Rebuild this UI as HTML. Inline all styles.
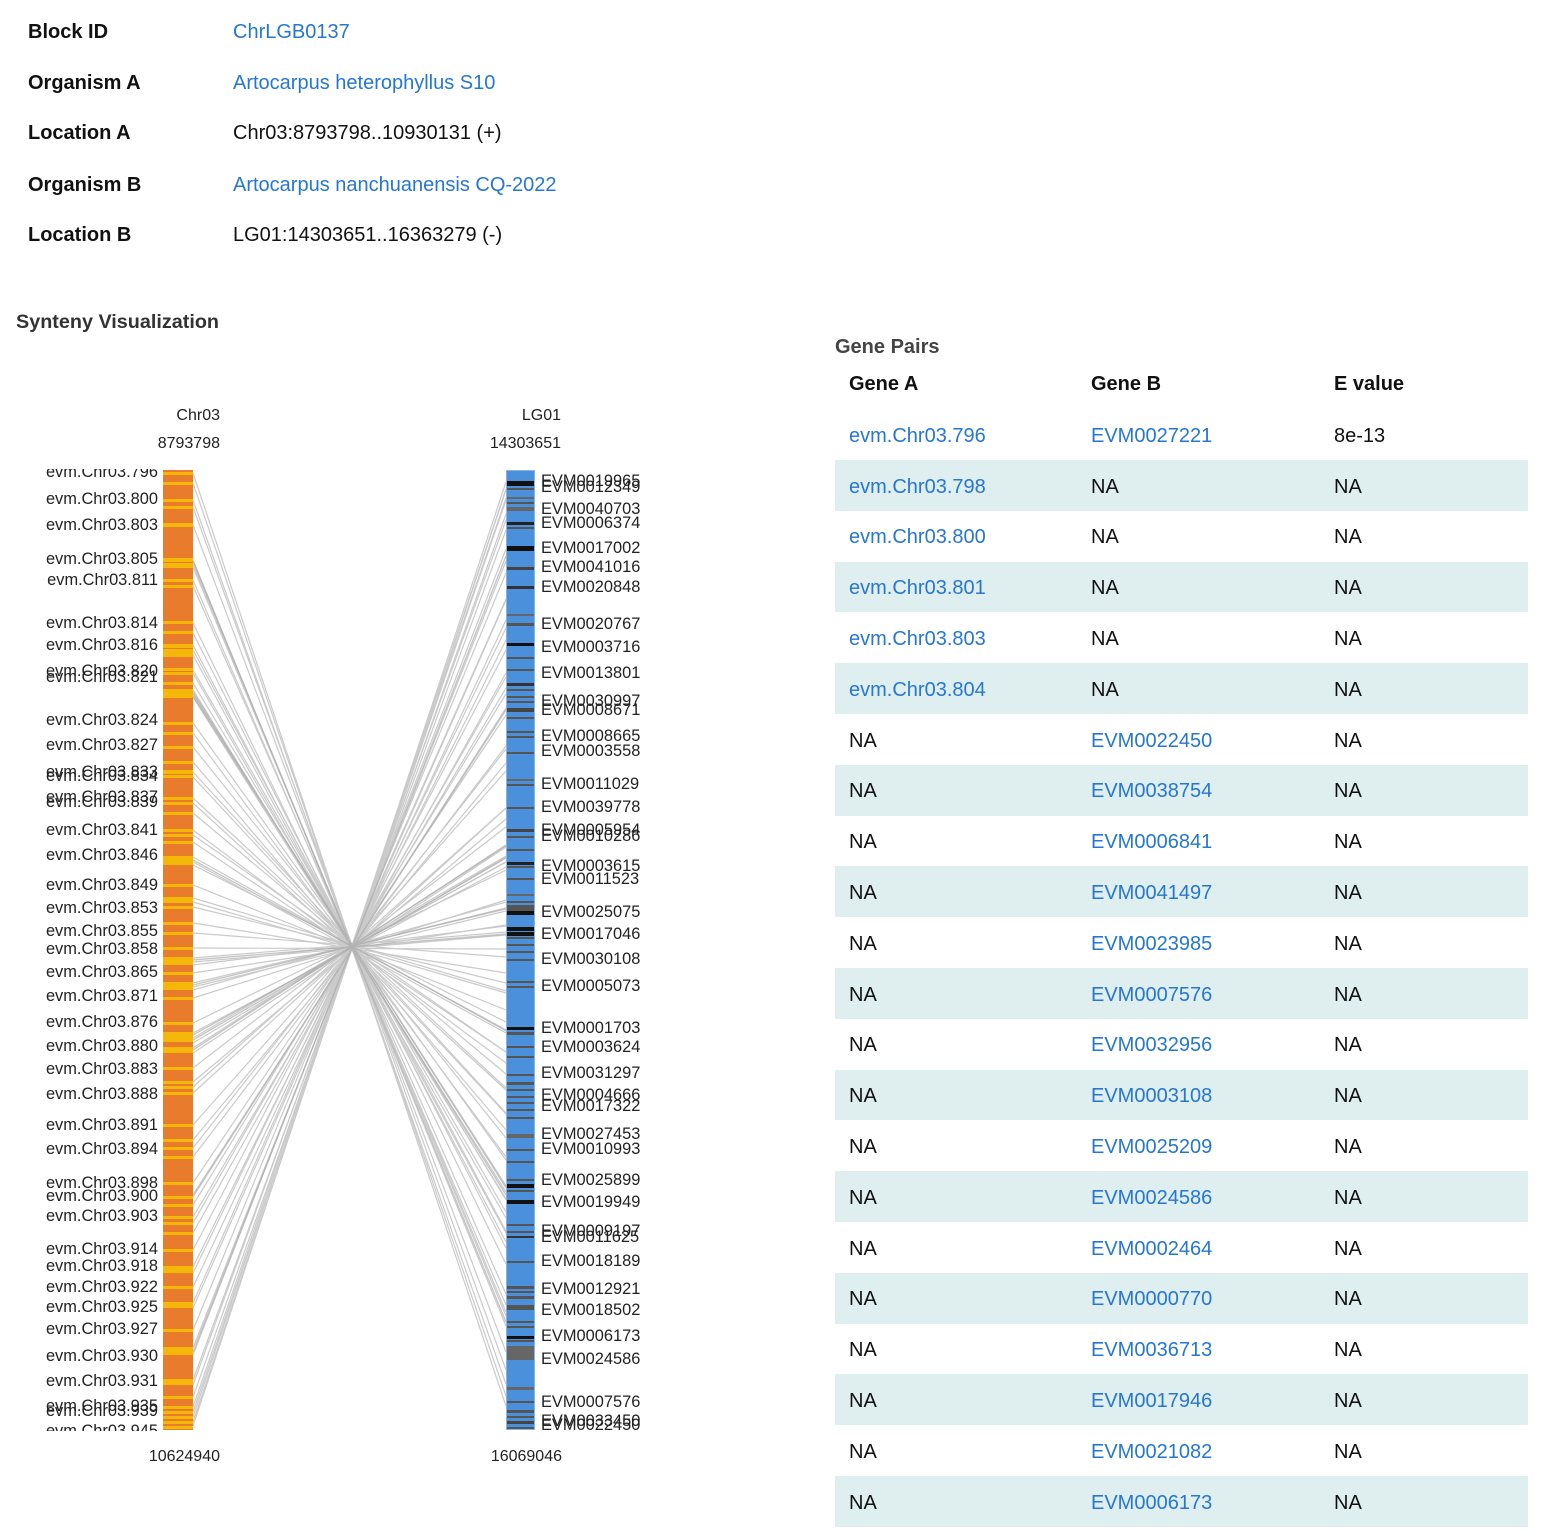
<!DOCTYPE html>
<html><head><meta charset="utf-8">
<style>
html,body{margin:0;padding:0;background:#fff;}
body{width:1544px;height:1533px;position:relative;overflow:hidden;font-family:"Liberation Sans",Arial,sans-serif;}
.a{position:absolute;white-space:nowrap;line-height:24px;height:24px;font-size:20px;}
.lb{font-weight:bold;color:#111;}
.v{color:#111;}
.lk{color:#2677cf;}
.row{position:absolute;left:835px;width:693px;height:50.8px;}
.row.s{background:#dfeeee;}
.c{position:absolute;top:14.5px;line-height:24px;font-size:20px;white-space:nowrap;color:#111;}
.c.lk{color:#2677cf;}
.c1{left:14px}.c2{left:256px}.c3{left:499px}
</style></head><body>

<div class="a lb" style="left:28px;top:20px;">Block ID</div>
<div class="a lk" style="left:233px;top:20px;">ChrLGB0137</div>
<div class="a lb" style="left:28px;top:71px;">Organism A</div>
<div class="a lk" style="left:233px;top:71px;">Artocarpus heterophyllus S10</div>
<div class="a lb" style="left:28px;top:121px;">Location A</div>
<div class="a v" style="left:233px;top:121px;">Chr03:8793798..10930131 (+)</div>
<div class="a lb" style="left:28px;top:173px;">Organism B</div>
<div class="a lk" style="left:233px;top:173px;">Artocarpus nanchuanensis CQ-2022</div>
<div class="a lb" style="left:28px;top:223px;">Location B</div>
<div class="a v" style="left:233px;top:223px;">LG01:14303651..16363279 (-)</div>

<div class="a" style="left:16px;top:310px;font-size:19.8px;font-weight:bold;color:#333;">Synteny Visualization</div>

<div class="a" style="left:835px;top:335px;font-weight:bold;color:#444;">Gene Pairs</div>
<div class="a lb" style="left:849px;top:372px;">Gene A</div>
<div class="a lb" style="left:1091px;top:372px;">Gene B</div>
<div class="a lb" style="left:1334px;top:372px;">E value</div>

<div class="row" style="top:409.2px"><span class="c c1 lk">evm.Chr03.796</span><span class="c c2 lk">EVM0027221</span><span class="c c3">8e-13</span></div>
<div class="row s" style="top:460px"><span class="c c1 lk">evm.Chr03.798</span><span class="c c2">NA</span><span class="c c3">NA</span></div>
<div class="row" style="top:510.8px"><span class="c c1 lk">evm.Chr03.800</span><span class="c c2">NA</span><span class="c c3">NA</span></div>
<div class="row s" style="top:561.6px"><span class="c c1 lk">evm.Chr03.801</span><span class="c c2">NA</span><span class="c c3">NA</span></div>
<div class="row" style="top:612.4px"><span class="c c1 lk">evm.Chr03.803</span><span class="c c2">NA</span><span class="c c3">NA</span></div>
<div class="row s" style="top:663.2px"><span class="c c1 lk">evm.Chr03.804</span><span class="c c2">NA</span><span class="c c3">NA</span></div>
<div class="row" style="top:714px"><span class="c c1">NA</span><span class="c c2 lk">EVM0022450</span><span class="c c3">NA</span></div>
<div class="row s" style="top:764.8px"><span class="c c1">NA</span><span class="c c2 lk">EVM0038754</span><span class="c c3">NA</span></div>
<div class="row" style="top:815.6px"><span class="c c1">NA</span><span class="c c2 lk">EVM0006841</span><span class="c c3">NA</span></div>
<div class="row s" style="top:866.4px"><span class="c c1">NA</span><span class="c c2 lk">EVM0041497</span><span class="c c3">NA</span></div>
<div class="row" style="top:917.2px"><span class="c c1">NA</span><span class="c c2 lk">EVM0023985</span><span class="c c3">NA</span></div>
<div class="row s" style="top:968px"><span class="c c1">NA</span><span class="c c2 lk">EVM0007576</span><span class="c c3">NA</span></div>
<div class="row" style="top:1018.8px"><span class="c c1">NA</span><span class="c c2 lk">EVM0032956</span><span class="c c3">NA</span></div>
<div class="row s" style="top:1069.6px"><span class="c c1">NA</span><span class="c c2 lk">EVM0003108</span><span class="c c3">NA</span></div>
<div class="row" style="top:1120.4px"><span class="c c1">NA</span><span class="c c2 lk">EVM0025209</span><span class="c c3">NA</span></div>
<div class="row s" style="top:1171.2px"><span class="c c1">NA</span><span class="c c2 lk">EVM0024586</span><span class="c c3">NA</span></div>
<div class="row" style="top:1222px"><span class="c c1">NA</span><span class="c c2 lk">EVM0002464</span><span class="c c3">NA</span></div>
<div class="row s" style="top:1272.8px"><span class="c c1">NA</span><span class="c c2 lk">EVM0000770</span><span class="c c3">NA</span></div>
<div class="row" style="top:1323.6px"><span class="c c1">NA</span><span class="c c2 lk">EVM0036713</span><span class="c c3">NA</span></div>
<div class="row s" style="top:1374.4px"><span class="c c1">NA</span><span class="c c2 lk">EVM0017946</span><span class="c c3">NA</span></div>
<div class="row" style="top:1425.2px"><span class="c c1">NA</span><span class="c c2 lk">EVM0021082</span><span class="c c3">NA</span></div>
<div class="row s" style="top:1476px"><span class="c c1">NA</span><span class="c c2 lk">EVM0006173</span><span class="c c3">NA</span></div>

<svg style="position:absolute;left:0;top:0" width="800" height="1533" viewBox="0 0 800 1533" xmlns="http://www.w3.org/2000/svg" font-family="Liberation Sans, Arial, sans-serif">
<defs><clipPath id="cl"><rect x="0" y="469" width="800" height="962"/></clipPath></defs>

<g font-size="16" fill="#222" text-anchor="end">
<text x="220" y="420">Chr03</text>
<text x="220" y="448">8793798</text>
<text x="561" y="420">LG01</text>
<text x="561" y="448">14303651</text>
<text x="220" y="1461">10624940</text>
<text x="562" y="1461">16069046</text>
</g>

<!-- connecting lines -->
<g stroke="#bdbdbd" stroke-width="1.2" fill="none" opacity="0.8">
<line x1="193" y1="473" x2="506" y2="1406"/><line x1="193" y1="483" x2="506" y2="1396"/><line x1="193" y1="500" x2="506" y2="1384"/><line x1="193" y1="507" x2="506" y2="1370"/><line x1="193" y1="525" x2="506" y2="1352"/><line x1="193" y1="560" x2="506" y2="1326"/><line x1="193" y1="564" x2="506" y2="1316"/><line x1="193" y1="567" x2="506" y2="1312"/><line x1="193" y1="580" x2="506" y2="1305"/><line x1="193" y1="586" x2="506" y2="1294"/><line x1="193" y1="623" x2="506" y2="1264"/><line x1="193" y1="633" x2="506" y2="1248"/><line x1="193" y1="645" x2="506" y2="1242"/><line x1="193" y1="650" x2="506" y2="1231"/><line x1="193" y1="655" x2="506" y2="1233"/><line x1="193" y1="670" x2="506" y2="1212"/><line x1="193" y1="673" x2="506" y2="1218"/><line x1="193" y1="683" x2="506" y2="1200"/><line x1="193" y1="690" x2="506" y2="1199"/><line x1="193" y1="694" x2="506" y2="1188"/><line x1="193" y1="697" x2="506" y2="1192"/><line x1="193" y1="723" x2="506" y2="1160"/><line x1="193" y1="733" x2="506" y2="1157"/><line x1="193" y1="747" x2="506" y2="1138"/><line x1="193" y1="762" x2="506" y2="1130"/><line x1="193" y1="772" x2="506" y2="1113"/><line x1="193" y1="777" x2="506" y2="1114"/><line x1="193" y1="798" x2="506" y2="1088"/><line x1="193" y1="803" x2="506" y2="1090"/><line x1="193" y1="813" x2="506" y2="1074"/><line x1="193" y1="830" x2="506" y2="1063"/><line x1="193" y1="835" x2="506" y2="1052"/><line x1="193" y1="842" x2="506" y2="1052"/><line x1="193" y1="857" x2="506" y2="1031"/><line x1="193" y1="862" x2="506" y2="1033"/><line x1="193" y1="865" x2="506" y2="1022"/><line x1="193" y1="885" x2="506" y2="1010"/><line x1="193" y1="898" x2="506" y2="991"/><line x1="193" y1="902" x2="506" y2="993"/><line x1="193" y1="907" x2="506" y2="983"/><line x1="193" y1="923" x2="506" y2="973"/><line x1="193" y1="933" x2="506" y2="957"/><line x1="193" y1="948" x2="506" y2="949"/><line x1="193" y1="958" x2="506" y2="932"/><line x1="193" y1="962" x2="506" y2="935"/><line x1="193" y1="965" x2="506" y2="926"/><line x1="193" y1="973" x2="506" y2="925"/><line x1="193" y1="983" x2="506" y2="909"/><line x1="193" y1="987" x2="506" y2="911"/><line x1="193" y1="990" x2="506" y2="902"/><line x1="193" y1="998" x2="506" y2="900"/><line x1="193" y1="1023" x2="506" y2="870"/><line x1="193" y1="1033" x2="506" y2="867"/><line x1="193" y1="1038" x2="506" y2="856"/><line x1="193" y1="1043" x2="506" y2="857"/><line x1="193" y1="1048" x2="506" y2="846"/><line x1="193" y1="1053" x2="506" y2="847"/><line x1="193" y1="1068" x2="506" y2="827"/><line x1="193" y1="1082" x2="506" y2="819"/><line x1="193" y1="1087" x2="506" y2="808"/><line x1="193" y1="1093" x2="506" y2="808"/><line x1="193" y1="1125" x2="506" y2="771"/><line x1="193" y1="1140" x2="506" y2="763"/><line x1="193" y1="1148" x2="506" y2="749"/><line x1="193" y1="1157" x2="506" y2="746"/><line x1="193" y1="1183" x2="506" y2="715"/><line x1="193" y1="1197" x2="506" y2="708"/><line x1="193" y1="1205" x2="506" y2="694"/><line x1="193" y1="1217" x2="506" y2="688"/><line x1="193" y1="1223" x2="506" y2="677"/><line x1="193" y1="1233" x2="506" y2="673"/><line x1="193" y1="1250" x2="506" y2="650"/><line x1="193" y1="1267" x2="506" y2="640"/><line x1="193" y1="1273" x2="506" y2="628"/><line x1="193" y1="1287" x2="506" y2="620"/><line x1="193" y1="1303" x2="506" y2="599"/><line x1="193" y1="1308" x2="506" y2="600"/><line x1="193" y1="1330" x2="506" y2="573"/><line x1="193" y1="1348" x2="506" y2="561"/><line x1="193" y1="1355" x2="506" y2="549"/><line x1="193" y1="1380" x2="506" y2="530"/><line x1="193" y1="1385" x2="506" y2="520"/><line x1="193" y1="1397" x2="506" y2="514"/><line x1="193" y1="1407" x2="506" y2="498"/><line x1="193" y1="1412" x2="506" y2="500"/><line x1="193" y1="1417" x2="506" y2="489"/><line x1="193" y1="1422" x2="506" y2="490"/><line x1="193" y1="1426" x2="506" y2="482"/>
</g>
<g stroke="#a8a8a8" stroke-width="1.4" fill="none" opacity="0.65">
<line x1="193" y1="561" x2="506" y2="1322"/><line x1="193" y1="692" x2="506" y2="1195"/><line x1="193" y1="696" x2="506" y2="1186"/><line x1="193" y1="860" x2="506" y2="1030"/><line x1="193" y1="960" x2="506" y2="934"/><line x1="193" y1="985" x2="506" y2="908"/><line x1="193" y1="1035" x2="506" y2="862"/><line x1="193" y1="1040" x2="506" y2="858"/><line x1="193" y1="1050" x2="506" y2="845"/><line x1="193" y1="1195" x2="506" y2="710"/><line x1="193" y1="1352" x2="506" y2="556"/>
</g>

<!-- orange bar -->
<rect x="163" y="470" width="30" height="960" fill="#e97b2d"/>
<g fill="#f5b70a">
<rect x="163" y="472" width="30" height="3"/><rect x="163" y="482" width="30" height="3"/><rect x="163" y="499" width="30" height="3"/><rect x="163" y="506" width="30" height="3"/><rect x="163" y="523" width="30" height="4"/><rect x="163" y="558" width="30" height="4"/><rect x="163" y="563" width="30" height="5"/><rect x="163" y="579" width="30" height="3"/><rect x="163" y="585" width="30" height="3"/><rect x="163" y="621" width="30" height="3"/><rect x="163" y="631" width="30" height="3"/><rect x="163" y="644" width="30" height="4"/><rect x="163" y="649" width="30" height="5"/><rect x="163" y="654" width="30" height="3"/><rect x="163" y="668" width="30" height="3"/><rect x="163" y="672" width="30" height="3"/><rect x="163" y="682" width="30" height="3"/><rect x="163" y="689" width="30" height="9"/><rect x="163" y="722" width="30" height="3"/><rect x="163" y="732" width="30" height="3"/><rect x="163" y="746" width="30" height="3"/><rect x="163" y="761" width="30" height="3"/><rect x="163" y="770" width="30" height="4"/><rect x="163" y="775" width="30" height="3"/><rect x="163" y="797" width="30" height="3"/><rect x="163" y="802" width="30" height="3"/><rect x="163" y="812" width="30" height="3"/><rect x="163" y="829" width="30" height="3"/><rect x="163" y="834" width="30" height="3"/><rect x="163" y="841" width="30" height="3"/><rect x="163" y="856" width="30" height="9"/><rect x="163" y="884" width="30" height="3"/><rect x="163" y="897" width="30" height="6"/><rect x="163" y="906" width="30" height="3"/><rect x="163" y="922" width="30" height="3"/><rect x="163" y="932" width="30" height="3"/><rect x="163" y="947" width="30" height="3"/><rect x="163" y="957" width="30" height="8"/><rect x="163" y="972" width="30" height="3"/><rect x="163" y="982" width="30" height="8"/><rect x="163" y="997" width="30" height="3"/><rect x="163" y="1022" width="30" height="3"/><rect x="163" y="1032" width="30" height="10"/><rect x="163" y="1047" width="30" height="6"/><rect x="163" y="1067" width="30" height="3"/><rect x="163" y="1081" width="30" height="3"/><rect x="163" y="1086" width="30" height="3"/><rect x="163" y="1092" width="30" height="3"/><rect x="163" y="1124" width="30" height="3"/><rect x="163" y="1139" width="30" height="3"/><rect x="163" y="1147" width="30" height="3"/><rect x="163" y="1156" width="30" height="3"/><rect x="163" y="1182" width="30" height="3"/><rect x="163" y="1196" width="30" height="3"/><rect x="163" y="1204" width="30" height="3"/><rect x="163" y="1216" width="30" height="3"/><rect x="163" y="1222" width="30" height="3"/><rect x="163" y="1232" width="30" height="3"/><rect x="163" y="1249" width="30" height="3"/><rect x="163" y="1266" width="30" height="7"/><rect x="163" y="1286" width="30" height="3"/><rect x="163" y="1302" width="30" height="6"/><rect x="163" y="1329" width="30" height="3"/><rect x="163" y="1347" width="30" height="8"/><rect x="163" y="1379" width="30" height="6"/><rect x="163" y="1396" width="30" height="3"/><rect x="163" y="1406" width="30" height="3"/><rect x="163" y="1411" width="30" height="3"/><rect x="163" y="1416" width="30" height="3"/><rect x="163" y="1421" width="30" height="3"/><rect x="163" y="1426" width="30" height="3"/>
</g>

<!-- blue bar -->
<rect x="506.5" y="470.5" width="28" height="959" fill="#4a90da" stroke="#86b4e6" stroke-width="1"/>
<g>
<rect x="507" y="481" width="27" height="5" fill="#111"/><rect x="507" y="488" width="27" height="2" fill="#555"/><rect x="507" y="497" width="27" height="2" fill="#666"/><rect x="507" y="502" width="27" height="2" fill="#555"/><rect x="507" y="507" width="27" height="4" fill="#666"/><rect x="507" y="522" width="27" height="3" fill="#222"/><rect x="507" y="527" width="27" height="2" fill="#555"/><rect x="507" y="546" width="27" height="5" fill="#111"/><rect x="507" y="567" width="27" height="3" fill="#444"/><rect x="507" y="586" width="27" height="3" fill="#333"/><rect x="507" y="614" width="27" height="2" fill="#666"/><rect x="507" y="623" width="27" height="3" fill="#555"/><rect x="507" y="643" width="27" height="3" fill="#111"/><rect x="507" y="657" width="27" height="2" fill="#555"/><rect x="507" y="669" width="27" height="2" fill="#555"/><rect x="507" y="683" width="27" height="3" fill="#333"/><rect x="507" y="689" width="27" height="2" fill="#555"/><rect x="507" y="696" width="27" height="2" fill="#555"/><rect x="507" y="701" width="27" height="2" fill="#555"/><rect x="507" y="708" width="27" height="4" fill="#444"/><rect x="507" y="717" width="27" height="2" fill="#555"/><rect x="507" y="731" width="27" height="2" fill="#555"/><rect x="507" y="736" width="27" height="2" fill="#555"/><rect x="507" y="752" width="27" height="2" fill="#555"/><rect x="507" y="779" width="27" height="2" fill="#666"/><rect x="507" y="784" width="27" height="2" fill="#555"/><rect x="507" y="807" width="27" height="2" fill="#555"/><rect x="507" y="829" width="27" height="3" fill="#444"/><rect x="507" y="836" width="27" height="2" fill="#555"/><rect x="507" y="849" width="27" height="2" fill="#555"/><rect x="507" y="862" width="27" height="3" fill="#222"/><rect x="507" y="866" width="27" height="2" fill="#555"/><rect x="507" y="878" width="27" height="2" fill="#555"/><rect x="507" y="894" width="27" height="2" fill="#666"/><rect x="507" y="901" width="27" height="2" fill="#555"/><rect x="507" y="905" width="27" height="6" fill="#555"/><rect x="507" y="911" width="27" height="4" fill="#111"/><rect x="507" y="927" width="27" height="4" fill="#111"/><rect x="507" y="932" width="27" height="4" fill="#111"/><rect x="507" y="937" width="27" height="2" fill="#555"/><rect x="507" y="944" width="27" height="2" fill="#555"/><rect x="507" y="951" width="27" height="2" fill="#555"/><rect x="507" y="959" width="27" height="2" fill="#555"/><rect x="507" y="981" width="27" height="2" fill="#555"/><rect x="507" y="986" width="27" height="2" fill="#555"/><rect x="507" y="1027" width="27" height="3" fill="#111"/><rect x="507" y="1032" width="27" height="3" fill="#555"/><rect x="507" y="1046" width="27" height="2" fill="#555"/><rect x="507" y="1056" width="27" height="2" fill="#555"/><rect x="507" y="1074" width="27" height="2" fill="#555"/><rect x="507" y="1082" width="27" height="3" fill="#555"/><rect x="507" y="1089" width="27" height="2" fill="#555"/><rect x="507" y="1096" width="27" height="2" fill="#555"/><rect x="507" y="1102" width="27" height="2" fill="#555"/><rect x="507" y="1109" width="27" height="2" fill="#555"/><rect x="507" y="1117" width="27" height="2" fill="#555"/><rect x="507" y="1134" width="27" height="4" fill="#666"/><rect x="507" y="1149" width="27" height="2" fill="#555"/><rect x="507" y="1161" width="27" height="2" fill="#555"/><rect x="507" y="1179" width="27" height="2" fill="#555"/><rect x="507" y="1184" width="27" height="4" fill="#111"/><rect x="507" y="1190" width="27" height="2" fill="#555"/><rect x="507" y="1200" width="27" height="4" fill="#111"/><rect x="507" y="1224" width="27" height="2" fill="#555"/><rect x="507" y="1231" width="27" height="2" fill="#555"/><rect x="507" y="1236" width="27" height="2" fill="#333"/><rect x="507" y="1261" width="27" height="2" fill="#555"/><rect x="507" y="1286" width="27" height="3" fill="#555"/><rect x="507" y="1291" width="27" height="2" fill="#555"/><rect x="507" y="1296" width="27" height="3" fill="#555"/><rect x="507" y="1305" width="27" height="5" fill="#555"/><rect x="507" y="1321" width="27" height="2" fill="#555"/><rect x="507" y="1326" width="27" height="2" fill="#555"/><rect x="507" y="1336" width="27" height="3" fill="#111"/><rect x="507" y="1340" width="27" height="2" fill="#555"/><rect x="507" y="1346" width="27" height="14" fill="#666"/><rect x="507" y="1387" width="27" height="3" fill="#666"/><rect x="507" y="1401" width="27" height="2" fill="#555"/><rect x="507" y="1410" width="27" height="3" fill="#555"/><rect x="507" y="1416" width="27" height="2" fill="#555"/><rect x="507" y="1421" width="27" height="3" fill="#444"/><rect x="507" y="1427" width="27" height="2" fill="#555"/>
</g>

<!-- left labels -->
<g clip-path="url(#cl)" font-size="16.4" fill="#222" text-anchor="end">
<text x="158" y="477">evm.Chr03.796</text>
<text x="158" y="504">evm.Chr03.800</text>
<text x="158" y="530">evm.Chr03.803</text>
<text x="158" y="564">evm.Chr03.805</text>
<text x="158" y="585">evm.Chr03.811</text>
<text x="158" y="628">evm.Chr03.814</text>
<text x="158" y="650">evm.Chr03.816</text>
<text x="158" y="676">evm.Chr03.820</text>
<text x="158" y="682">evm.Chr03.821</text>
<text x="158" y="725">evm.Chr03.824</text>
<text x="158" y="750">evm.Chr03.827</text>
<text x="158" y="777">evm.Chr03.833</text>
<text x="158" y="781">evm.Chr03.834</text>
<text x="158" y="802">evm.Chr03.837</text>
<text x="158" y="807">evm.Chr03.839</text>
<text x="158" y="835">evm.Chr03.841</text>
<text x="158" y="860">evm.Chr03.846</text>
<text x="158" y="890">evm.Chr03.849</text>
<text x="158" y="913">evm.Chr03.853</text>
<text x="158" y="936">evm.Chr03.855</text>
<text x="158" y="954">evm.Chr03.858</text>
<text x="158" y="977">evm.Chr03.865</text>
<text x="158" y="1001">evm.Chr03.871</text>
<text x="158" y="1027">evm.Chr03.876</text>
<text x="158" y="1051">evm.Chr03.880</text>
<text x="158" y="1074">evm.Chr03.883</text>
<text x="158" y="1099">evm.Chr03.888</text>
<text x="158" y="1130">evm.Chr03.891</text>
<text x="158" y="1154">evm.Chr03.894</text>
<text x="158" y="1188">evm.Chr03.898</text>
<text x="158" y="1201">evm.Chr03.900</text>
<text x="158" y="1221">evm.Chr03.903</text>
<text x="158" y="1254">evm.Chr03.914</text>
<text x="158" y="1271">evm.Chr03.918</text>
<text x="158" y="1292">evm.Chr03.922</text>
<text x="158" y="1312">evm.Chr03.925</text>
<text x="158" y="1334">evm.Chr03.927</text>
<text x="158" y="1361">evm.Chr03.930</text>
<text x="158" y="1386">evm.Chr03.931</text>
<text x="158" y="1411">evm.Chr03.935</text>
<text x="158" y="1416">evm.Chr03.939</text>
<text x="158" y="1436">evm.Chr03.945</text>
</g>

<!-- right labels -->
<g clip-path="url(#cl)" font-size="16.4" fill="#222">
<text x="541" y="486">EVM0019965</text>
<text x="541" y="492">EVM0012349</text>
<text x="541" y="514">EVM0040703</text>
<text x="541" y="528">EVM0006374</text>
<text x="541" y="553">EVM0017002</text>
<text x="541" y="572">EVM0041016</text>
<text x="541" y="592">EVM0020848</text>
<text x="541" y="629">EVM0020767</text>
<text x="541" y="652">EVM0003716</text>
<text x="541" y="678">EVM0013801</text>
<text x="541" y="706">EVM0030997</text>
<text x="541" y="715">EVM0008671</text>
<text x="541" y="741">EVM0008665</text>
<text x="541" y="756">EVM0003558</text>
<text x="541" y="789">EVM0011029</text>
<text x="541" y="812">EVM0039778</text>
<text x="541" y="835">EVM0005954</text>
<text x="541" y="841">EVM0010286</text>
<text x="541" y="871">EVM0003615</text>
<text x="541" y="884">EVM0011523</text>
<text x="541" y="917">EVM0025075</text>
<text x="541" y="939">EVM0017046</text>
<text x="541" y="964">EVM0030108</text>
<text x="541" y="991">EVM0005073</text>
<text x="541" y="1033">EVM0001703</text>
<text x="541" y="1052">EVM0003624</text>
<text x="541" y="1078">EVM0031297</text>
<text x="541" y="1100">EVM0004666</text>
<text x="541" y="1111">EVM0017322</text>
<text x="541" y="1139">EVM0027453</text>
<text x="541" y="1154">EVM0010993</text>
<text x="541" y="1185">EVM0025899</text>
<text x="541" y="1207">EVM0019949</text>
<text x="541" y="1236">EVM0009197</text>
<text x="541" y="1242">EVM0011625</text>
<text x="541" y="1266">EVM0018189</text>
<text x="541" y="1294">EVM0012921</text>
<text x="541" y="1315">EVM0018502</text>
<text x="541" y="1341">EVM0006173</text>
<text x="541" y="1364">EVM0024586</text>
<text x="541" y="1407">EVM0007576</text>
<text x="541" y="1426">EVM0033450</text>
<text x="541" y="1430">EVM0022450</text>
</g>
</svg>
</body></html>
